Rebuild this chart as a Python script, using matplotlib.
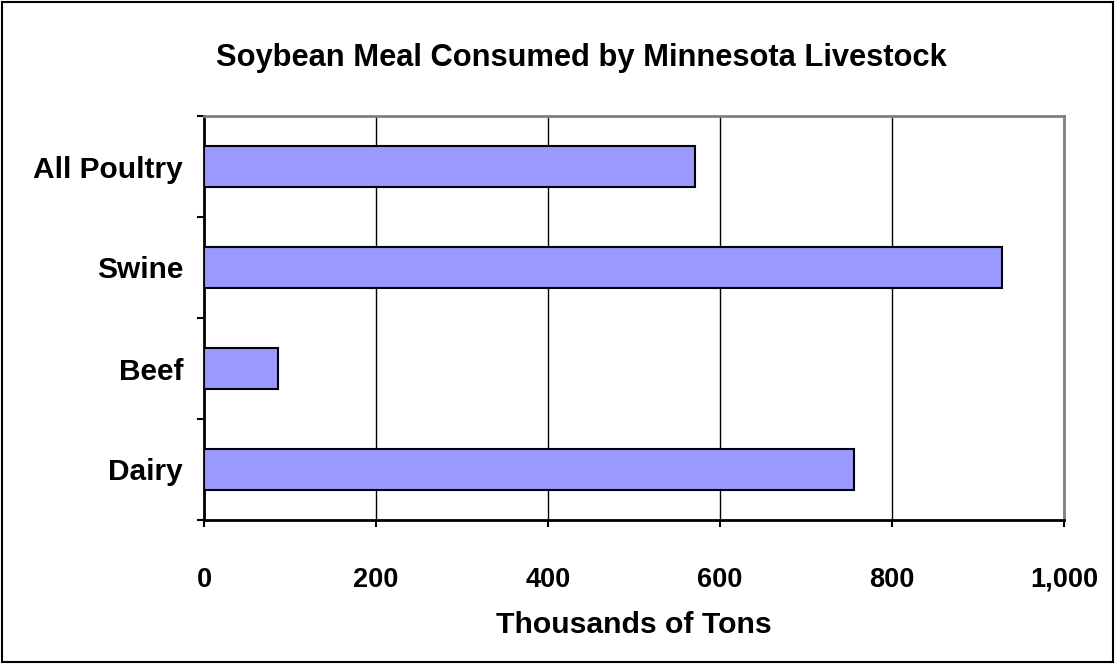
import matplotlib
matplotlib.use("Agg")
import matplotlib.pyplot as plt
from matplotlib.patches import Rectangle
from matplotlib.ticker import FuncFormatter
import numpy as np

categories = ["Dairy", "Beef", "Swine", "All Poultry"]
values = [756, 86, 928, 571]
xticks = [0, 200, 400, 600, 800, 1000]

plt.rcParams['font.family'] = ['Liberation Sans', 'DejaVu Sans']
plt.rcParams['font.weight'] = 'bold'

fig = plt.figure(figsize=(11.15, 6.64), dpi=100)
fig.patch.set_facecolor('white')
fig.patches.append(Rectangle((0.002, 0.003), 0.996, 0.994, transform=fig.transFigure,
                             fill=False, edgecolor='black', linewidth=1.5))

ax = fig.add_axes([204/1115, (664-520)/664, (1064-204)/1115, (520-116)/664])
y = np.arange(len(categories))
ax.barh(y, values, height=0.4, color='#9999FF', edgecolor='black', linewidth=1.5, zorder=3)
ax.set_xlim(0, 1000)
ax.set_ylim(-0.5, len(categories) - 0.5)
ax.set_xticks(xticks)
ax.xaxis.set_major_formatter(FuncFormatter(lambda v, p: f"{int(v):,}"))
ax.set_yticks(y)
ax.set_yticklabels(categories)
ax.set_yticks(np.arange(-0.5, len(categories), 1.0), minor=True)
ax.tick_params(axis='y', which='major', length=0, pad=15, labelsize=21.5)
ax.tick_params(axis='y', which='minor', length=5, width=1.5, direction='out')
ax.tick_params(axis='x', which='major', length=5, width=1.5, direction='out', pad=28.5, labelsize=19.5)
ax.grid(axis='x', color='black', linewidth=1, zorder=0)
ax.set_axisbelow(True)
for s in ['left', 'bottom']:
    ax.spines[s].set_color('black')
    ax.spines[s].set_linewidth(2)
for s in ['top', 'right']:
    ax.spines[s].set_color('#808080')
    ax.spines[s].set_linewidth(2)
ax.set_xlabel("Thousands of Tons", fontsize=21.7, fontweight='bold', labelpad=13)
fig.text(581/1115, 1 - 58/664, "Soybean Meal Consumed by Minnesota Livestock",
         ha='center', va='center', fontsize=22.2, fontweight='bold')

fig.savefig("out.png", dpi=100)
